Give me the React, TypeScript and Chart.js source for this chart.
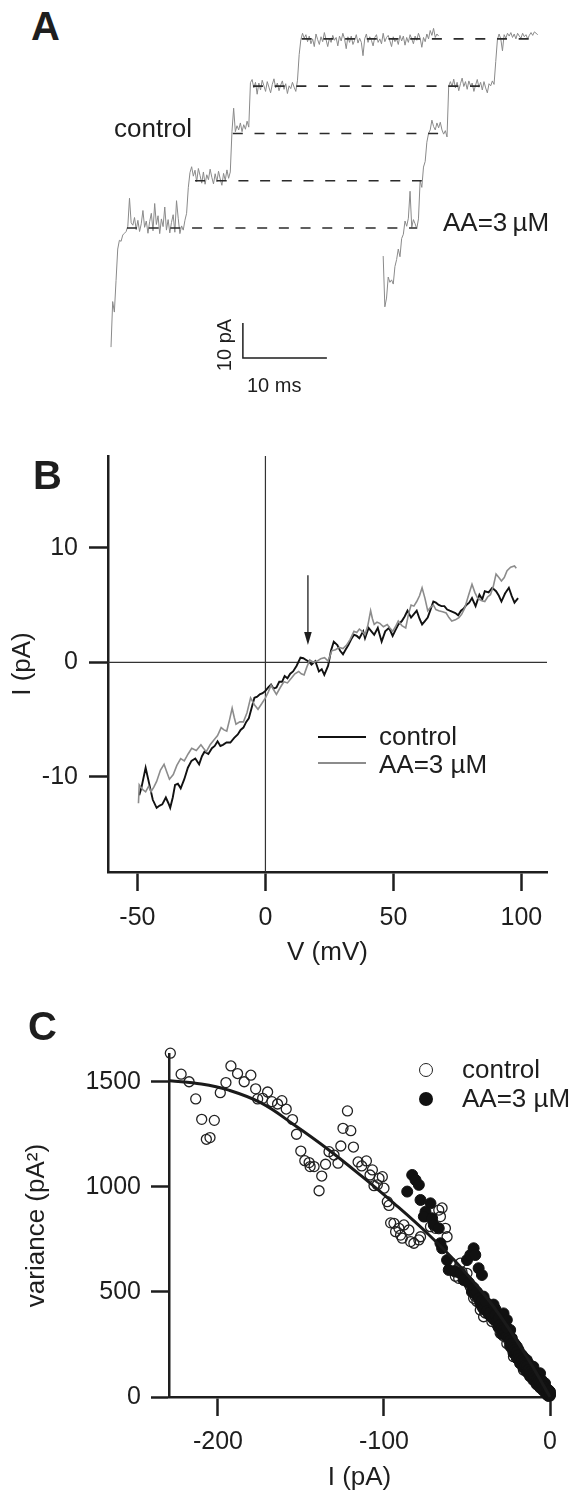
import React, { useEffect, useRef } from 'react';
import { Chart, registerables } from 'chart.js';

Chart.register(...registerables);

const FONT = "'Liberation Sans', Arial, Helvetica, sans-serif";
const INK = '#1e1e1e';
const GRAY = '#8a8a8a';

// ---------------- Panel A: single-channel current traces ----------------
const A_DT = 0.2; // ms per sample
const A_CONTROL_T0 = 0; // ms
const A_CONTROL_I = [
  -34, -21, -24, -15, -6, -3.5, -3.8, -2, -1.5, -1, 0.5, 8.5,
  1.5, 0.8, 3.0, -0.5, 2.2, -1.0, 1.2, 5.0, 0.2, 2.0, -1.5, 1.8, 4.2, -0.8, 7.0, 1.0, 3.5, -1.6, 2.6, 0.4,
  6.0, -0.6, 2.4, -1.4, 1.6, 3.8, -1.2, 7.8, 2.8, -1.6, 0.6, -0.6, 2.2,
  4.2, 11.5, 15.8, 17.5,
  14.8, 16.5, 13.2, 17.0, 15.0, 12.8, 16.0, 12.5, 15.2, 13.8, 16.8, 14.5, 12.6, 15.5, 13.2, 16.2, 14.0, 12.2,
  15.6, 13.6, 16.6, 14.2, 16.0,
  27.5, 34.2, 27.5,
  29.2, 28.0, 30.0, 27.5, 29.5, 28.2, 30.5, 28.8,
  41.5,
  42.4, 40.0, 41.6, 38.2, 41.4, 39.4, 42.2, 40.6, 39.0, 41.8, 40.2, 38.6, 41.0, 42.6, 40.0, 41.4, 39.2, 40.8,
  42.0, 39.6, 41.2, 38.4, 40.6, 39.8, 41.6, 40.2, 39.0, 42.2,
  49.5, 53.8,
  55.6, 54.2, 55.2, 53.2, 54.8, 52.6, 54.0, 51.8, 55.4, 53.8, 52.4, 54.6, 53.2, 55.8, 53.8, 51.8, 54.2, 53.0,
  55.0, 53.6, 54.4, 52.0, 54.8, 53.4, 55.6, 54.0, 51.2, 54.6, 53.0, 54.8, 52.4, 53.6, 55.2, 52.8, 54.2, 53.0,
  49.2, 54.0, 55.4, 53.0, 54.6, 53.6, 52.0, 54.4, 55.2, 53.0, 54.0, 52.6, 55.6, 53.2, 54.4, 55.0, 53.4, 51.8,
  54.6, 53.2, 54.0, 52.4, 55.0, 53.4, 54.8, 52.2, 54.4, 53.0, 55.2, 54.0, 52.6, 54.8, 53.6, 55.6, 54.2, 51.6,
  54.4, 53.2, 55.4, 54.0, 56.4, 55.0, 57.0, 54.4, 55.4, 54.8,
];
const A_AA_T0 = 32.4; // ms
const A_AA_I = [
  -8.0, -22.5, -20.0, -14.0, -15.5, -14.8, -16.0, -11.0, -9.0, -6.0, -8.2, -3.0, -1.8, 2.0, 0.5, 2.8,
  10.5, 0.2, 2.4, 1.2, -0.2, 2.6,
  13.5, 11.6, 17.4, 19.0, 24.5,
  27.0, 28.0, 30.8, 29.0, 28.0, 30.0, 28.6, 30.2, 28.0, 26.8, 27.8, 26.0,
  40.5, 41.8, 40.4, 42.5, 40.0, 41.6, 39.2, 41.2, 42.8, 40.4, 41.8, 39.6, 42.0, 40.6, 41.4, 39.0, 40.8, 42.4,
  40.2, 41.6, 39.4, 41.8, 40.0, 38.6, 41.2, 40.6, 42.0, 41.0,
  47.5, 53.8, 55.4, 54.0, 50.6, 55.2, 54.2, 55.6, 54.8, 55.8, 54.4, 55.4, 54.0, 55.6, 54.8, 54.2, 55.6, 54.6,
  55.2, 54.0, 55.0, 55.8, 55.0, 56.0, 55.6, 55.2,
];
// conductance levels (pA) and the extent (ms) of each dashed level line
const A_LEVELS = [0, 13.5, 27, 40.5, 54];
const A_LEVEL_START = [1.9, 10.0, 14.5, 16.9, 22.7];
const A_LEVEL_END = [36.4, 37.0, 39.2, 43.9, 49.9];
// scale bar: 10 pA / 10 ms
const A_BAR_T = [15.7, 15.7, 25.7];
const A_BAR_I = [-27.1, -37.1, -37.1];
const A_T_RANGE = [-1.31, 53.45];
const A_I_RANGE = [-49.1, 65.1];

// ---------------- Panel B: I-V relation ----------------
const B_X_RANGE = [-61.5, 110];
const B_Y_RANGE = [-18.3, 18];
const B_X_TICKS = [-50, 0, 50, 100];
const B_Y_TICKS = [-10, 0, 10];
const B_CONTROL: [number, number][] = [
  [-49.3, -11.6], [-48.5, -11.0], [-46.8, -9.2], [-45.5, -10.5], [-44, -12.0], [-42.5, -12.7], [-41.3, -12.5],
  [-40.3, -12.4], [-38.9, -11.8], [-37.9, -12.3], [-37.2, -12.7], [-36.2, -11.8], [-35.3, -10.7], [-34.2, -10.6],
  [-33.1, -11.0], [-31.7, -10.2], [-30.3, -9.2], [-28.9, -8.6], [-27.4, -8.4], [-25.9, -8.9], [-24.8, -8.2],
  [-23.8, -7.8], [-22.3, -8.0], [-20.9, -7.5], [-19.8, -7.3], [-18.7, -6.9], [-17.6, -7.3], [-16.6, -7.2],
  [-15.2, -7.0], [-13.7, -7.0], [-12.2, -6.6], [-10.8, -6.3], [-9.7, -5.9], [-8.6, -5.7], [-7.5, -5.2],
  [-6.5, -4.9], [-5.4, -4.0], [-4.3, -3.1], [-3.2, -3.0], [-2.2, -2.8], [-1.1, -2.7], [0, -2.5], [1.1, -2.2],
  [2.2, -1.95], [3.2, -2.3], [4.3, -2.2], [5.4, -1.7], [6.5, -1.7], [7.5, -1.2], [8.6, -1.4], [9.7, -1.0],
  [10.8, -0.8], [12.2, -0.3], [13.7, 0.4], [14.8, 0.35], [15.9, 0.2], [17.0, 0.05], [18.0, -0.2], [19.5, 0.1],
  [20.9, -0.8], [22.0, -0.6], [23.0, -1.1], [24.5, -0.3], [25.6, 1.0], [26.7, 1.8], [28.1, 1.5], [29.2, 1.0],
  [30.3, 0.7], [31.3, 1.1], [32.4, 1.5], [33.5, 2.0], [34.6, 2.4], [35.7, 2.3], [36.7, 2.1], [38.2, 2.7],
  [38.9, 2.1], [40.3, 3.0], [41.4, 2.7], [42.5, 2.4], [43.9, 3.0], [45.4, 1.8], [46.8, 2.7], [48.3, 3.0],
  [49.7, 2.3], [50.8, 2.8], [51.9, 3.3], [53.3, 3.6], [54.4, 4.0], [55.5, 4.5], [56.9, 3.9], [58.0, 4.2],
  [59.1, 4.5], [60.2, 3.8], [61.2, 3.3], [62.3, 3.6], [63.4, 3.9], [64.5, 4.6], [65.6, 5.3], [66.6, 5.2],
  [67.7, 5.0], [68.8, 4.9], [69.9, 4.9], [71.0, 4.6], [72, 4.5], [73.1, 4.4], [74.2, 4.3], [75.3, 4.1],
  [76.4, 4.5], [77.5, 4.7], [78.5, 5.0], [79.6, 5.2], [80.7, 5.6], [82.1, 4.9], [83.6, 5.9], [84.7, 5.5],
  [85.7, 6.2], [87.2, 6.1], [88.6, 6.5], [90.1, 6.2], [91.2, 5.8], [92.2, 5.3], [93.6, 6.0], [95.1, 6.5],
  [96.2, 5.8], [97.3, 5.2], [98.7, 5.6],
];
const B_AA: [number, number][] = [
  [-49.6, -12.3], [-49.3, -10.7], [-48.0, -11.1], [-46.8, -11.3], [-45.6, -10.8], [-44.7, -11.3], [-43.6, -10.9],
  [-42.5, -10.4], [-41.0, -9.4], [-39.6, -8.9], [-38.5, -9.6], [-37.5, -10.2], [-36.0, -9.8], [-34.6, -9.0],
  [-33.1, -8.4], [-31.7, -8.6], [-30.2, -8.0], [-28.8, -7.5], [-27.0, -7.7], [-25.2, -7.2], [-24.2, -7.5],
  [-23.1, -7.8], [-21.6, -7.2], [-20.2, -6.8], [-18.7, -6.4], [-17.3, -5.7], [-16.2, -5.9], [-15.1, -6.0],
  [-14.0, -5.0], [-13.0, -4.0], [-12.2, -4.8], [-11.5, -5.4], [-10.0, -5.2], [-8.6, -5.2], [-7.2, -4.4],
  [-5.8, -3.1], [-4.3, -3.7], [-2.9, -4.1], [-1.4, -3.6], [0, -3.1], [1.1, -2.6], [2.2, -2.0], [3.2, -2.4],
  [4.3, -2.8], [5.8, -2.2], [7.2, -1.7], [8.6, -1.8], [10.1, -1.4], [11.5, -1.0], [13.0, -0.8], [14.0, -1.0],
  [15.1, -1.1], [16.2, -0.4], [17.3, 0.2], [18.7, 0.0], [20.2, 0.1], [21.6, 0.3], [23.1, 0.4], [24.5, 0.1],
  [25.9, 1.0], [27.4, 1.1], [28.8, 1.3], [30.3, 1.2], [31.7, 1.5], [33.1, 2.0], [34.6, 2.7], [35.7, 2.6],
  [36.7, 2.9], [37.8, 2.7], [38.9, 2.4], [40.0, 3.2], [41.1, 4.5], [41.8, 3.8], [42.5, 3.3], [43.6, 3.5],
  [44.7, 3.4], [46.1, 3.1], [47.6, 3.3], [48.6, 3.0], [49.7, 2.7], [50.8, 3.1], [51.9, 3.6], [53.3, 3.2],
  [54.8, 3.0], [55.9, 4.2], [56.9, 5.0], [58.0, 4.9], [59.1, 5.3], [60.2, 5.8], [61.2, 6.5], [62.3, 5.6],
  [63.4, 4.5], [64.5, 4.8], [65.6, 5.0], [66.6, 4.6], [67.7, 4.5], [69.2, 4.4], [70.6, 4.3], [71.7, 3.9],
  [72.8, 3.6], [74.2, 3.7], [75.6, 3.9], [76.7, 4.2], [77.8, 4.7], [79.3, 5.8], [80.7, 6.8], [81.8, 6.1],
  [82.9, 5.6], [84.3, 5.4], [85.7, 5.3], [86.8, 5.7], [87.9, 5.9], [89.0, 6.6], [90.1, 7.7], [91.2, 7.4],
  [92.2, 7.1], [93.3, 7.4], [94.4, 8.0], [95.8, 8.3], [97.3, 8.4], [98.0, 8.2],
];
// arrow marking the reversal region (mV, from pA, to pA)
const B_ARROW_V = 16.6;
const B_ARROW_FROM = 7.6;
const B_ARROW_TO = 1.5;

// ---------------- Panel C: variance vs mean current ----------------
const C_X_RANGE = [-229.5, 0];
const C_Y_RANGE = [0, 1633];
const C_X_TICKS = [-200, -100, 0];
const C_Y_TICKS = [0, 500, 1000, 1500];
const C_CONTROL: [number, number][] = [
  [-228.7, 1637], [-222.2, 1537], [-217.4, 1501], [-213.4, 1419], [-209.8, 1322], [-202.2, 1317], [-207, 1227],
  [-204.8, 1235], [-198.6, 1449], [-195.2, 1497], [-192.2, 1576], [-188.2, 1540], [-184.2, 1501], [-180.2, 1532],
  [-177.3, 1467], [-176.1, 1419], [-173.1, 1422], [-170.1, 1452], [-167.5, 1406], [-164.1, 1395], [-161.5, 1411],
  [-158.9, 1371], [-155.1, 1321], [-152.7, 1251], [-150.1, 1171], [-147.7, 1125], [-145.1, 1116], [-142.1, 1097],
  [-144.5, 1097], [-137.5, 1052], [-139.1, 982], [-135.2, 1108], [-133.1, 1168], [-130.1, 1152], [-127.7, 1113],
  [-126, 1195], [-122, 1362], [-124.7, 1279], [-120, 1268], [-118.4, 1190], [-115.6, 1119], [-113.4, 1100],
  [-110.6, 1124], [-107, 1081], [-108.4, 1057], [-106, 1006], [-103, 1041], [-104, 1010], [-101, 1049],
  [-100, 994], [-98, 930], [-97, 912], [-96, 829], [-94, 827], [-93, 787], [-91, 803], [-90, 771], [-89, 756],
  [-88, 819], [-85, 795], [-84, 740], [-82, 732], [-79, 748], [-78, 763], [-75, 859], [-72, 811], [-69, 803],
  [-67, 890], [-66, 859], [-65, 900], [-63, 803], [-62, 763], [-60, 640], [-58, 600], [-57, 575], [-56, 605],
  [-55, 565], [-54, 637], [-53, 595], [-51, 560], [-50, 589], [-49, 540], [-48, 525], [-47, 505], [-46, 470],
  [-45, 478], [-44, 455], [-43, 470], [-42, 414], [-41, 430], [-40, 382], [-39, 400], [-38, 446], [-37, 420],
  [-36, 385], [-35, 360], [-34, 398], [-33, 370], [-32, 345], [-31, 330], [-30, 303], [-29, 320], [-28, 290],
  [-27, 300], [-26, 255], [-25, 270], [-24, 240], [-23, 230], [-22, 192], [-21, 215], [-20, 200], [-19, 180],
  [-18, 170], [-17, 160], [-16, 129], [-15, 150], [-14, 135], [-13, 120], [-12, 97], [-11, 105], [-10, 95],
  [-9, 80], [-8, 65], [-7, 70], [-6, 55], [-5, 45], [-4, 33], [-3, 30], [-2, 20], [-1, 10], [0, 5],
];
const C_AA: [number, number][] = [
  [-83, 1057], [-81, 1033], [-79, 1010], [-86, 978], [-78, 938], [-72, 922], [-75, 882], [-76, 859], [-71, 851],
  [-70, 819], [-67, 803], [-66, 732], [-65, 708], [-62, 652], [-61, 605], [-57, 597], [-54, 589], [-52, 557],
  [-50, 652], [-48, 676], [-46, 708], [-45, 676], [-43, 613], [-41, 581], [-40, 478], [-38, 440], [-36, 430],
  [-35, 410], [-33, 420], [-32, 398], [-30, 380], [-29, 350], [-28, 398], [-27, 340], [-26, 367], [-25, 300],
  [-24, 319], [-23, 280], [-22, 260], [-21, 250], [-20, 240], [-19, 225], [-18, 208], [-17, 200], [-16, 190],
  [-15, 165], [-14, 176], [-13, 160], [-12, 140], [-11, 125], [-10, 144], [-9, 120], [-8, 100], [-7, 95],
  [-6, 113], [-5, 80], [-4, 60], [-3, 65], [-2, 40], [-1.5, 35], [-1, 20], [-0.5, 12], [0, 25],
  [-49, 545], [-47, 500], [-46, 520], [-45, 490], [-44, 500], [-43, 470], [-42, 445], [-41, 460], [-40, 420],
  [-39, 455], [-38, 410], [-37, 395], [-36, 405], [-35, 380], [-34, 440], [-34, 370], [-33, 390], [-32, 360],
  [-31, 375], [-31, 335], [-30, 345], [-29, 330], [-29, 300], [-28, 320], [-27, 310], [-26, 290], [-26, 330],
  [-25, 280], [-24, 270], [-24, 245], [-23, 255], [-22, 235], [-22, 210], [-21, 225], [-20, 215], [-20, 185],
  [-19, 200], [-18, 185], [-18, 160], [-17, 175], [-16, 165], [-16, 140], [-15, 150], [-14, 145], [-14, 120],
  [-13, 130], [-12, 120], [-12, 100], [-11, 110], [-10, 105], [-10, 80], [-9, 95], [-8, 85], [-8, 60], [-7, 75],
  [-6, 70], [-6, 45], [-5, 60], [-4, 50], [-4, 30], [-3, 40], [-2, 30], [-2, 12], [-1, 25], [-1, 5], [0, 10],
  [0, 15], [-0.5, 30],
];
const C_FIT: [number, number][] = [
  [-229, 1506], [-210, 1490], [-194, 1462], [-174, 1400], [-154, 1295], [-134, 1181], [-114, 1055],
  [-94, 922], [-74, 780], [-54, 620], [-34, 430], [-14, 192], [0, 0],
];

// ---------------- helpers ----------------
const pts = (arr: [number, number][]) => arr.map(([x, y]) => ({ x, y }));
const font = (size: number, weight = 'normal') => ({ family: FONT, size, weight });

function axisX(range: number[], ticks: number[], title: string, height: number, tickPad: number, titlePad: number) {
  return {
    type: 'linear',
    position: 'bottom',
    min: range[0],
    max: range[1],
    afterBuildTicks: (s: any) => { s.ticks = ticks.map((v) => ({ value: v })); },
    afterFit: (s: any) => { s.height = height; },
    ticks: { font: font(25), color: INK, padding: tickPad, maxRotation: 0, autoSkip: false, callback: (v: any) => String(v) },
    grid: { display: true, drawOnChartArea: false, drawTicks: true, tickLength: 19, tickWidth: 2.5, tickColor: INK, color: INK },
    border: { display: true, width: 2.5, color: INK },
    title: { display: true, text: title, font: font(26), color: INK, padding: { top: 0, bottom: titlePad } },
  };
}
function axisY(range: number[], ticks: number[], title: string, width: number, tickPad: number, titlePad: number, tickLen: number) {
  return {
    type: 'linear',
    position: 'left',
    min: range[0],
    max: range[1],
    afterBuildTicks: (s: any) => { s.ticks = ticks.map((v) => ({ value: v })); },
    afterFit: (s: any) => { s.width = width; },
    ticks: { font: font(25), color: INK, padding: tickPad, autoSkip: false, callback: (v: any) => String(v) },
    grid: { display: true, drawOnChartArea: false, drawTicks: true, tickLength: tickLen, tickWidth: 2.5, tickColor: INK, color: INK },
    border: { display: true, width: 2.5, color: INK },
    title: { display: true, text: title, font: font(26), color: INK, padding: { top: titlePad, bottom: 0 } },
  };
}
const baseOptions = {
  animation: false,
  responsive: false,
  events: [],
  plugins: { legend: { display: false }, tooltip: { enabled: false } },
};

const arrowPlugin = {
  id: 'arrowB',
  afterDatasetsDraw(chart: any) {
    const { ctx, scales } = chart;
    const x = scales.x.getPixelForValue(B_ARROW_V);
    const y0 = scales.y.getPixelForValue(B_ARROW_FROM);
    const y1 = scales.y.getPixelForValue(B_ARROW_TO);
    ctx.save();
    ctx.strokeStyle = INK;
    ctx.fillStyle = INK;
    ctx.lineWidth = 1.3;
    ctx.beginPath();
    ctx.moveTo(x, y0);
    ctx.lineTo(x, y1 - 10);
    ctx.stroke();
    ctx.beginPath();
    ctx.moveTo(x - 3.8, y1 - 13);
    ctx.lineTo(x + 3.8, y1 - 13);
    ctx.lineTo(x, y1);
    ctx.closePath();
    ctx.fill();
    ctx.restore();
  },
};

function configA(): any {
  return {
    type: 'scatter',
    data: {
      datasets: [
        ...A_LEVELS.map((lv, k) => ({
          data: [{ x: A_LEVEL_START[k], y: lv }, { x: A_LEVEL_END[k], y: lv }],
          showLine: true, borderColor: '#2b2b2b', borderWidth: 1.6, borderDash: [10, 11.7], pointRadius: 0, order: 0,
        })),
        {
          data: A_CONTROL_I.map((v, i) => ({ x: A_CONTROL_T0 + i * A_DT, y: v })),
          showLine: true, borderColor: GRAY, borderWidth: 1, pointRadius: 0, order: 1,
        },
        {
          data: A_AA_I.map((v, i) => ({ x: A_AA_T0 + i * A_DT, y: v })),
          showLine: true, borderColor: GRAY, borderWidth: 1, pointRadius: 0, order: 1,
        },
        {
          data: A_BAR_T.map((t, i) => ({ x: t, y: A_BAR_I[i] })),
          showLine: true, borderColor: INK, borderWidth: 1.5, pointRadius: 0, order: 0,
        },
      ],
    },
    options: {
      ...baseOptions,
      layout: { padding: 0 },
      scales: {
        x: { type: 'linear', display: false, min: A_T_RANGE[0], max: A_T_RANGE[1] },
        y: { type: 'linear', display: false, min: A_I_RANGE[0], max: A_I_RANGE[1] },
      },
    },
  };
}

function configB(): any {
  return {
    type: 'scatter',
    data: {
      datasets: [
        { data: [{ x: 0, y: B_Y_RANGE[0] }, { x: 0, y: B_Y_RANGE[1] }], showLine: true, borderColor: '#333', borderWidth: 1.2, pointRadius: 0, order: 3 },
        { data: [{ x: B_X_RANGE[0], y: 0 }, { x: B_X_RANGE[1], y: 0 }], showLine: true, borderColor: '#333', borderWidth: 1.2, pointRadius: 0, order: 3 },
        { data: pts(B_AA), showLine: true, borderColor: '#8c8c8c', borderWidth: 1.6, pointRadius: 0, order: 1 },
        { data: pts(B_CONTROL), showLine: true, borderColor: '#111', borderWidth: 1.9, pointRadius: 0, order: 2 },
      ],
    },
    options: {
      ...baseOptions,
      layout: { padding: { top: 25, right: 30, bottom: 0, left: 0 } },
      scales: {
        x: axisX(B_X_RANGE, B_X_TICKS, 'V (mV)', 118, 12, 22),
        y: axisY(B_Y_RANGE, B_Y_TICKS, 'I (pA)', 108, 11, 7, 19),
      },
    },
    plugins: [arrowPlugin],
  };
}

function configC(): any {
  return {
    type: 'scatter',
    data: {
      datasets: [
        { data: pts(C_FIT), showLine: true, borderColor: '#1a1a1a', borderWidth: 3, tension: 0.4, pointRadius: 0, order: 0, clip: false },
        { data: pts(C_AA), pointRadius: 5.5, pointBackgroundColor: '#111', pointBorderColor: '#111', pointBorderWidth: 1, order: 1, clip: false },
        { data: pts(C_CONTROL), pointRadius: 5, pointBackgroundColor: 'rgba(0,0,0,0)', pointBorderColor: '#222', pointBorderWidth: 1.3, order: 2, clip: false },
      ],
    },
    options: {
      ...baseOptions,
      layout: { padding: { top: 74, right: 27, bottom: 0, left: 0 } },
      scales: {
        x: axisX(C_X_RANGE, C_X_TICKS, 'I (pA)', 101, 11, 5),
        y: axisY(C_Y_RANGE, C_Y_TICKS, 'variance (pA²)', 169, 10, 21, 18),
      },
    },
  };
}

function ChartCanvas(props: { left: number; top: number; width: number; height: number; make: () => any }) {
  const ref = useRef<HTMLCanvasElement | null>(null);
  useEffect(() => {
    if (!ref.current) return;
    const chart = new Chart(ref.current, props.make());
    return () => chart.destroy();
  }, []);
  return (
    <canvas
      ref={ref}
      width={props.width}
      height={props.height}
      style={{ position: 'absolute', left: props.left, top: props.top, width: props.width, height: props.height }}
    />
  );
}

function Label(props: { x: number; y: number; size: number; bold?: boolean; children: React.ReactNode }) {
  return (
    <div
      style={{
        position: 'absolute', left: props.x, top: props.y, fontFamily: FONT, fontSize: props.size,
        lineHeight: `${props.size}px`, fontWeight: props.bold ? 'bold' : 'normal', color: INK, whiteSpace: 'nowrap',
      }}
    >
      {props.children}
    </div>
  );
}

export default function App() {
  return (
    <div style={{ position: 'absolute', left: 0, top: 0, width: 577, height: 1498, background: '#fff', overflow: 'hidden' }}>
      <ChartCanvas left={100} top={0} width={460} height={400} make={configA} />
      <ChartCanvas left={0} top={430} width={577} height={560} make={configB} />
      <ChartCanvas left={0} top={980} width={577} height={518} make={configC} />

      {/* Panel A annotations */}
      <Label x={31} y={6} size={40} bold>A</Label>
      <Label x={114} y={115} size={26}>control</Label>
      <Label x={443} y={209} size={26}>AA=3{'\u2009'}µM</Label>
      <div
        style={{
          position: 'absolute', left: 223.5, top: 345, transform: 'translate(-50%, -50%) rotate(-90deg)',
          fontFamily: FONT, fontSize: 20, lineHeight: '20px', color: INK, whiteSpace: 'nowrap',
        }}
      >
        10 pA
      </div>
      <Label x={247} y={375} size={20}>10 ms</Label>

      {/* Panel B annotations */}
      <Label x={33} y={455} size={40} bold>B</Label>
      <div style={{ position: 'absolute', left: 318, top: 736, width: 48, height: 2, background: '#111' }} />
      <div style={{ position: 'absolute', left: 318, top: 762, width: 48, height: 1.6, background: '#8c8c8c' }} />
      <Label x={379} y={723} size={26}>control</Label>
      <Label x={379} y={751} size={26}>AA=3 µM</Label>

      {/* Panel C annotations */}
      <Label x={28} y={1006} size={40} bold>C</Label>
      <div style={{ position: 'absolute', left: 419, top: 1063, width: 14, height: 14, boxSizing: 'border-box', border: '1.5px solid #222', borderRadius: '50%' }} />
      <div style={{ position: 'absolute', left: 419, top: 1092, width: 14, height: 14, background: '#111', borderRadius: '50%' }} />
      <Label x={462} y={1056} size={26}>control</Label>
      <Label x={462} y={1085} size={26}>AA=3 µM</Label>
    </div>
  );
}
